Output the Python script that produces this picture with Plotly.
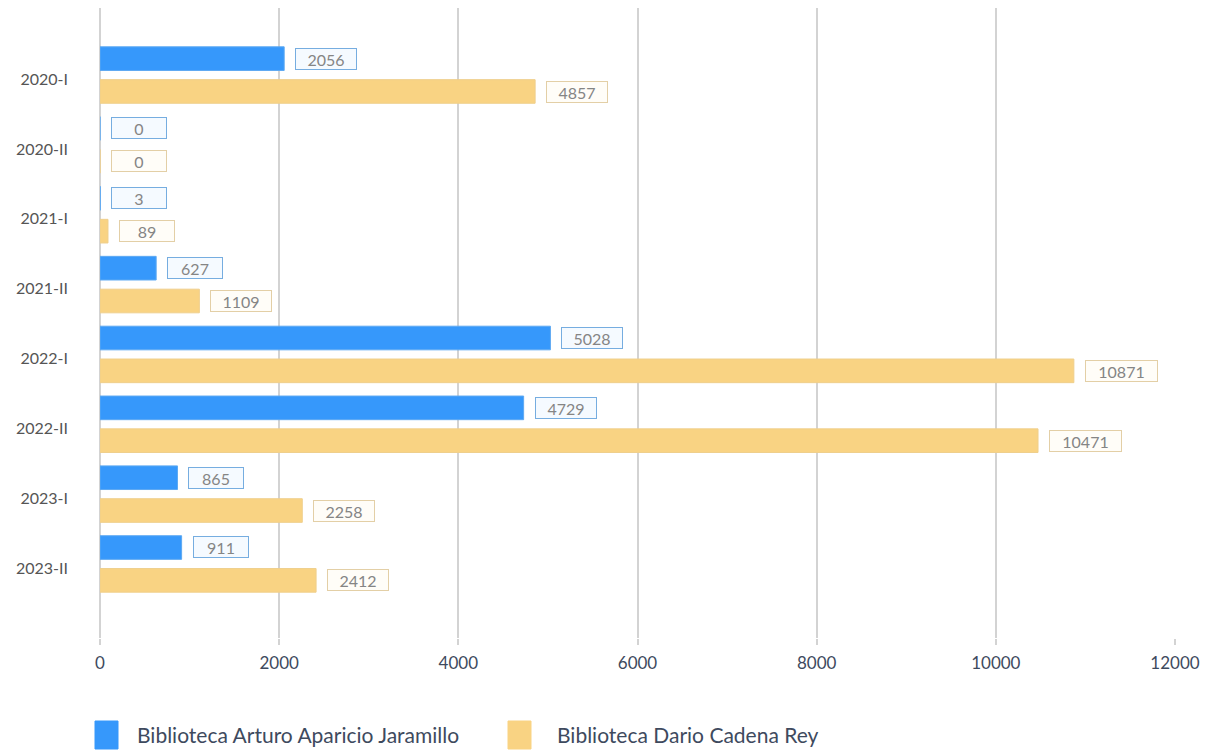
import plotly.graph_objects as go

categories = ["2020-I", "2020-II", "2021-I", "2021-II", "2022-I", "2022-II", "2023-I", "2023-II"]
serie_arturo = [2056, 0, 3, 627, 5028, 4729, 865, 911]
serie_dario = [4857, 0, 89, 1109, 10871, 10471, 2258, 2412]
name_arturo = "Biblioteca Arturo Aparicio Jaramillo"
name_dario = "Biblioteca Dario Cadena Rey"
x_ticks = [0, 2000, 4000, 6000, 8000, 10000, 12000]
x_tick_labels = ["0", "2000", "4000", "6000", "8000", "10000", "12000"]

BLUE = "#3698fb"
YELLOW = "#f9d383"
FONT = "Lato, 'Open Sans', sans-serif"

fig = go.Figure()
fig.add_trace(go.Bar(y=categories, x=serie_arturo, orientation="h", name=name_arturo,
                     marker=dict(color=BLUE, line=dict(color="#5ea9f2", width=1))))
fig.add_trace(go.Bar(y=categories, x=serie_dario, orientation="h", name=name_dario,
                     marker=dict(color=YELLOW, line=dict(color="#efcf8c", width=1))))

annotations = []
for series, shift, border, bg in [(serie_arturo, 16.5, "#76ade0", "#f5faff"),
                                  (serie_dario, -16.5, "#e3cfa6", "#fffdf8")]:
    for cat, v in zip(categories, series):
        txt = str(v)
        annotations.append(dict(
            x=v, y=cat, xref="x", yref="y", text=txt, showarrow=False,
            xanchor="left", yanchor="middle", xshift=11, yshift=shift,
            width=max(52, 11 * len(txt) + 14), height=18,
            font=dict(family=FONT, size=16, color="#858585"),
            bordercolor=border, borderwidth=1, borderpad=1, bgcolor=bg,
        ))

# custom legend (positions relative to the plot area: left edge x=100px, bottom y=638px on page)
PW, PH = 1075, 630
legend_items = [(name_arturo, BLUE, 95, 135), (name_dario, YELLOW, 508, 555)]
shapes = []
for name, col, sq_px, txt_px in legend_items:
    x0 = sq_px - 100
    annotations.append(dict(
        xref="paper", yref="paper", x=(txt_px - 100) / PW, y=-(735 - 638) / PH,
        text=name, showarrow=False, xanchor="left", yanchor="middle",
        font=dict(family=FONT, size=21, color="#3e4a5e"),
    ))
    shapes.append(dict(
        type="rect", xref="paper", yref="paper",
        x0=x0 / PW, x1=(x0 + 23) / PW, y0=-(749 - 638) / PH, y1=-(721 - 638) / PH,
        fillcolor=col, line=dict(color=col, width=1),
    ))

# page body has an 8px margin, so the figure is 8px smaller and offsets shifted
fig.update_layout(
    width=1203, height=742,
    margin=dict(l=92, r=36, t=0, b=112, autoexpand=False),
    paper_bgcolor="white", plot_bgcolor="white",
    barmode="group", bargap=0.06, bargroupgap=0.28,
    showlegend=False,
    annotations=annotations, shapes=shapes,
    font=dict(family=FONT),
    xaxis=dict(range=[0, 12000], tickvals=x_ticks, ticktext=x_tick_labels, showgrid=True,
               gridcolor="#d3d3d3", gridwidth=1.5, zeroline=True, zerolinecolor="#d3d3d3",
               zerolinewidth=1.5, ticks="outside", ticklen=6, tickcolor="#d3d3d3", tickwidth=1.5,
               tickfont=dict(size=17, color="#3e4a5e"), ticklabelstandoff=4, automargin=False),
    yaxis=dict(type="category", range=[8.06, -0.96], showgrid=False,
               tickfont=dict(size=16, color="#555555"), ticklabelstandoff=31,
               ticklabelshift=-4, ticks="", automargin=False),
)

fig.write_html("out.html")
